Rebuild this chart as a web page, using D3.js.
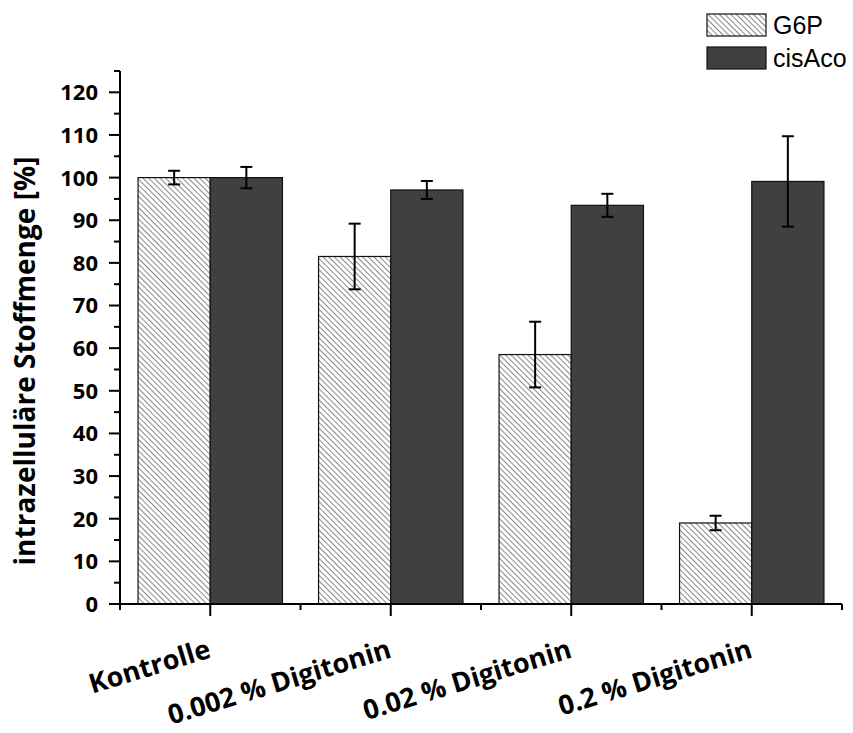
<!DOCTYPE html>
<html>
<head>
<meta charset="utf-8">
<script src="https://cdn.jsdelivr.net/npm/d3@7/dist/d3.min.js"></script>
<style>
  html, body { margin: 0; padding: 0; background: #fff; }
  svg { display: block; }
</style>
</head>
<body>
<svg id="chart" width="853" height="733"></svg>
<script>
// Treatments and the two measured metabolites
const categories = ["Kontrolle", "0.002 % Digitonin", "0.02 % Digitonin", "0.2 % Digitonin"];
const seriesNames = ["G6P", "cisAco"];
const g6pValues = [100, 81.5, 58.5, 19.0];
const g6pErrors = [1.6, 7.7, 7.7, 1.7];
const cisAcoValues = [100, 97.1, 93.5, 99.1];
const cisAcoErrors = [2.5, 2.1, 2.7, 10.6];
const yTicks = [0, 10, 20, 30, 40, 50, 60, 70, 80, 90, 100, 110, 120];
const yTitle = "intrazelluläre Stoffmenge [%]";

const svg = d3.select("#chart");
const margin = { left: 120, right: 11, top: 71, bottom: 129 };
const W = 853, H = 733;
const plotW = W - margin.left - margin.right;
const plotH = H - margin.top - margin.bottom;

const defs = svg.append("defs");
const hatch = defs.append("pattern")
  .attr("id", "hatch")
  .attr("patternUnits", "userSpaceOnUse")
  .attr("width", 4).attr("height", 4)
  .attr("patternTransform", "rotate(-45)");
hatch.append("rect").attr("width", 4).attr("height", 4).attr("fill", "#fff");
hatch.append("line")
  .attr("x1", 0).attr("y1", 0).attr("x2", 0).attr("y2", 4)
  .attr("stroke", "#111").attr("stroke-width", 1);

const fills = { "G6P": "url(#hatch)", "cisAco": "#404040" };

const g = svg.append("g").attr("transform", `translate(${margin.left},${margin.top})`);

const x = d3.scaleBand().domain(categories).range([0, plotW]).paddingInner(0).paddingOuter(0);
const xs = d3.scaleBand().domain(seriesNames).range([x.bandwidth() * 0.1, x.bandwidth() * 0.9]);
const y = d3.scaleLinear().domain([0, 125]).range([plotH, 0]);

const rows = categories.map((c, i) => ({
  cat: c,
  items: [
    { s: "G6P", v: g6pValues[i], e: g6pErrors[i] },
    { s: "cisAco", v: cisAcoValues[i], e: cisAcoErrors[i] }
  ]
}));

// Bars
const groups = g.selectAll("g.grp").data(rows).join("g")
  .attr("class", "grp")
  .attr("transform", d => `translate(${x(d.cat)},0)`);

groups.selectAll("rect").data(d => d.items).join("rect")
  .attr("x", d => xs(d.s))
  .attr("y", d => y(d.v))
  .attr("width", xs.bandwidth())
  .attr("height", d => y(0) - y(d.v))
  .attr("fill", d => fills[d.s])
  .attr("stroke", "#111")
  .attr("stroke-width", 1.2);

// Error bars
const err = groups.selectAll("g.err").data(d => d.items).join("g").attr("class", "err");
err.append("line")
  .attr("x1", d => xs(d.s) + xs.bandwidth() / 2)
  .attr("x2", d => xs(d.s) + xs.bandwidth() / 2)
  .attr("y1", d => y(d.v + d.e))
  .attr("y2", d => y(d.v - d.e))
  .attr("stroke", "#000").attr("stroke-width", 2);
[1, -1].forEach(sign => {
  err.append("line")
    .attr("x1", d => xs(d.s) + xs.bandwidth() / 2 - 6)
    .attr("x2", d => xs(d.s) + xs.bandwidth() / 2 + 6)
    .attr("y1", d => y(d.v + sign * d.e))
    .attr("y2", d => y(d.v + sign * d.e))
    .attr("stroke", "#000").attr("stroke-width", 2);
});

// Y axis: major ticks with labels, minor ticks in between
const yAxis = g.append("g").attr("class", "y-axis");
yAxis.append("line")
  .attr("x1", 0).attr("x2", 0).attr("y1", y(125)).attr("y2", y(0))
  .attr("stroke", "#000").attr("stroke-width", 2);
yAxis.selectAll("line.major").data(yTicks).join("line")
  .attr("class", "major")
  .attr("x1", -11).attr("x2", 0)
  .attr("y1", d => y(d)).attr("y2", d => y(d))
  .attr("stroke", "#000").attr("stroke-width", 2);
yAxis.selectAll("line.minor").data(yTicks.map(t => t + 5)).join("line")
  .attr("class", "minor")
  .attr("x1", -6).attr("x2", 0)
  .attr("y1", d => y(d)).attr("y2", d => y(d))
  .attr("stroke", "#000").attr("stroke-width", 2);
yAxis.selectAll("text").data(yTicks).join("text")
  .attr("x", -22).attr("y", d => y(d))
  .attr("dy", "0.36em")
  .attr("text-anchor", "end")
  .attr("font-family", "'Open Sans', sans-serif")
  .attr("font-weight", "bold")
  .attr("font-size", 22)
  .text(d => d);

// X axis: major ticks at group centres, minor ticks at group borders
const xAxis = g.append("g").attr("class", "x-axis").attr("transform", `translate(0,${plotH})`);
xAxis.append("line")
  .attr("x1", 0).attr("x2", plotW).attr("y1", 0).attr("y2", 0)
  .attr("stroke", "#000").attr("stroke-width", 2);
xAxis.selectAll("line.major").data(categories).join("line")
  .attr("class", "major")
  .attr("x1", d => x(d) + x.bandwidth() / 2).attr("x2", d => x(d) + x.bandwidth() / 2)
  .attr("y1", 0).attr("y2", 12)
  .attr("stroke", "#000").attr("stroke-width", 2);
const borders = categories.map(c => x(c)).concat([x.range()[1]]);
xAxis.selectAll("line.minor").data(borders).join("line")
  .attr("class", "minor")
  .attr("x1", d => d).attr("x2", d => d)
  .attr("y1", 0).attr("y2", 6)
  .attr("stroke", "#000").attr("stroke-width", 2);
xAxis.selectAll("text").data(categories).join("text")
  .attr("transform", d => `translate(${x(d) + x.bandwidth() / 2 + 2},53) rotate(-17)`)
  .attr("text-anchor", "end")
  .attr("font-family", "'Open Sans', sans-serif")
  .attr("font-weight", "bold")
  .attr("font-size", 27)
  .text(d => d);

// Y axis title
svg.append("text")
  .attr("transform", `translate(35,361) rotate(-90)`)
  .attr("text-anchor", "middle")
  .attr("font-family", "'Open Sans', sans-serif")
  .attr("font-weight", "bold")
  .attr("font-size", 28)
  .text(yTitle);

// Legend
const legend = svg.append("g").attr("transform", "translate(707,14)");
const li = legend.selectAll("g").data(seriesNames).join("g")
  .attr("transform", (d, i) => `translate(0,${i * 33})`);
li.append("rect")
  .attr("width", 59).attr("height", 22)
  .attr("fill", d => fills[d])
  .attr("stroke", "#111").attr("stroke-width", 1.2);
li.append("text")
  .attr("x", 66).attr("y", 11).attr("dy", "0.36em")
  .attr("font-family", "'Liberation Sans', Arial, sans-serif")
  .attr("font-size", 25)
  .text(d => d);
</script>
</body>
</html>
